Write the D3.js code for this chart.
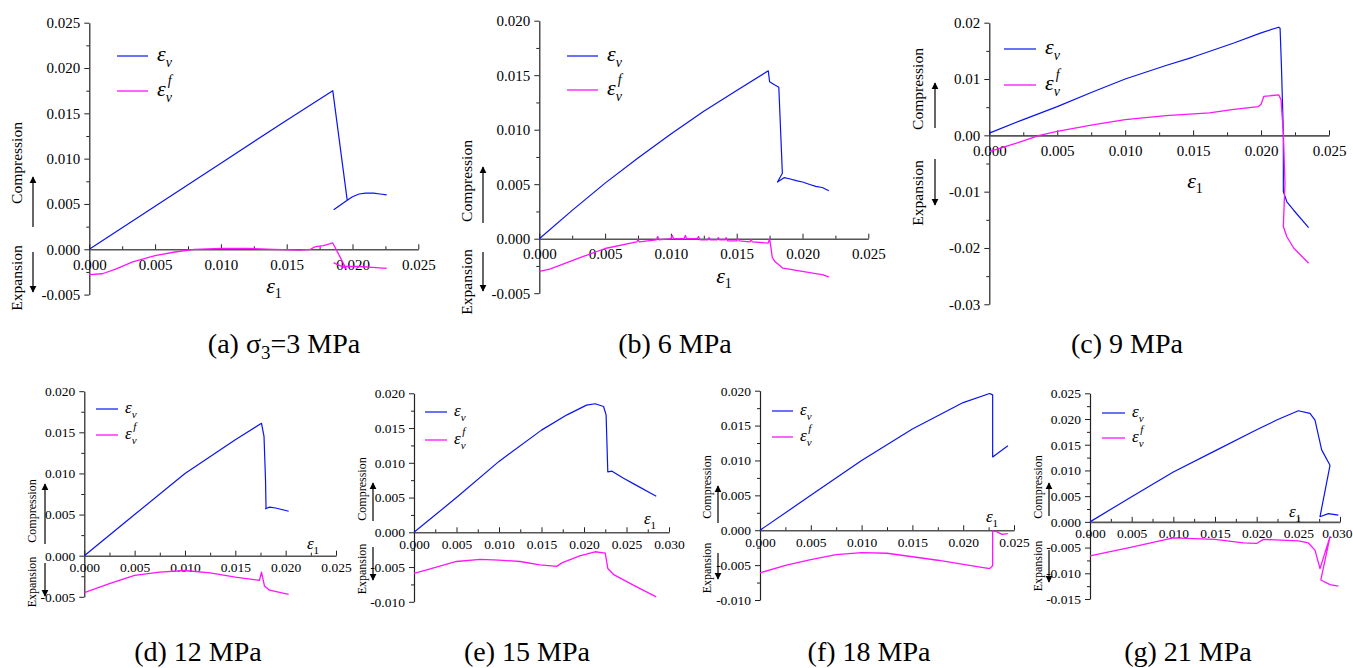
<!DOCTYPE html>
<html>
<head>
<meta charset="utf-8">
<script src="https://cdn.jsdelivr.net/npm/d3@7"></script>
<style>
  html, body { margin: 0; padding: 0; background: #fff; }
  svg { display: block; }
</style>
</head>
<body>
<svg id="chart" width="1353" height="668" font-family="Liberation Serif"></svg>
<script>
// ---------------- DATA ----------------
// each point: [axial strain ε1, volumetric strain]
const evA = [[0,0],[0.005,0.00475],[0.010,0.0095],[0.015,0.01425],[0.0185,0.0175],[0.0196,0.0054],[0.0186,0.0044],[0.0190,0.0048],[0.0196,0.0054],[0.0200,0.0058],[0.0205,0.0061],[0.0210,0.0062],[0.0216,0.0062],[0.0221,0.0061],[0.0226,0.0060]];
const evfA = [[0,-0.0028],[0.001,-0.0027],[0.002,-0.0022],[0.0033,-0.0014],[0.005,-0.0007],[0.0065,-0.0003],[0.008,0.0000],[0.010,0.0001],[0.012,0.0001],[0.014,0.0000],[0.016,-0.0001],[0.0168,0.0000],[0.0172,0.0003],[0.0178,0.0004],[0.0185,0.0007],[0.0195,-0.0021],[0.0186,-0.0015],[0.0190,-0.0018],[0.0196,-0.0019],[0.0205,-0.0019],[0.0215,-0.0020],[0.0226,-0.0021]];

const evB = [[0,0],[0.0025,0.0026],[0.005,0.0051],[0.0075,0.0074],[0.010,0.0096],[0.0125,0.0117],[0.015,0.0136],[0.0174,0.0154],[0.0175,0.0144],[0.0179,0.0141],[0.0182,0.0139],[0.01847,0.0060],[0.0181,0.0052],[0.0186,0.0056],[0.0190,0.0055],[0.0196,0.0053],[0.0200,0.0052],[0.0205,0.0050],[0.0210,0.0048],[0.0215,0.0047],[0.0220,0.0044]];
const evfB = [[0,-0.0030],[0.0008,-0.0028],[0.0033,-0.00165],[0.005,-0.0009],[0.0074,-0.0003],[0.0075,-0.0001],[0.0076,-0.0003],[0.0089,-0.0001],[0.0090,0.0002],[0.0091,-0.0001],[0.0100,0.0000],[0.0101,0.0003],[0.0102,0.0000],[0.0110,0.0000],[0.0111,0.0003],[0.0112,0.0000],[0.0120,0.0000],[0.0121,0.0002],[0.0122,-0.0001],[0.0128,-0.0001],[0.0129,0.0001],[0.0130,-0.0001],[0.0135,-0.0001],[0.0136,0.0001],[0.0137,-0.0001],[0.0141,-0.0001],[0.0142,0.0001],[0.0143,-0.0002],[0.0150,-0.0002],[0.0151,0.0000],[0.0152,-0.0002],[0.0160,-0.0003],[0.0161,-0.0001],[0.0162,-0.0003],[0.0174,-0.0004],[0.0175,0.0000],[0.0176,-0.0008],[0.0177,-0.0017],[0.0179,-0.0021],[0.0182,-0.0024],[0.0185,-0.0027],[0.0190,-0.0028],[0.0195,-0.0029],[0.0200,-0.0030],[0.0210,-0.0032],[0.0215,-0.0033],[0.0220,-0.0035]];

const evC = [[0,0.0004],[0.0025,0.0028],[0.005,0.0051],[0.0075,0.0076],[0.010,0.0100],[0.013,0.0124],[0.015,0.0139],[0.018,0.0164],[0.020,0.0182],[0.0213,0.0192],[0.0214,0.0190],[0.0215,0.0122],[0.02164,0.0004],[0.02164,-0.0100],[0.0219,-0.0118],[0.0224,-0.0133],[0.0235,-0.0164]];
const evfC = [[0,-0.0029],[0.002,-0.0014],[0.0037,0.0000],[0.005,0.0007],[0.0075,0.0018],[0.010,0.0028],[0.013,0.0035],[0.0162,0.0040],[0.018,0.0046],[0.0198,0.0051],[0.0200,0.0055],[0.0202,0.0069],[0.0213,0.0072],[0.02147,0.0063],[0.02164,0.0004],[0.02176,-0.0085],[0.02164,-0.0162],[0.0219,-0.0180],[0.0224,-0.0200],[0.0235,-0.0227]];

const evD = [[0,0],[0.005,0.0050],[0.010,0.0100],[0.015,0.0141],[0.0176,0.0161],[0.01785,0.0145],[0.0180,0.0092],[0.01805,0.0058],[0.0180,0.0057],[0.0184,0.0059],[0.0190,0.0058],[0.0203,0.0054]];
const evfD = [[0,-0.0045],[0.0025,-0.0034],[0.005,-0.0024],[0.0075,-0.0020],[0.010,-0.0018],[0.0125,-0.0021],[0.015,-0.0026],[0.0174,-0.0030],[0.0176,-0.0020],[0.0179,-0.0037],[0.0184,-0.0042],[0.0203,-0.0047]];

const evE = [[0,0],[0.005,0.0050],[0.010,0.0102],[0.015,0.0147],[0.018,0.0169],[0.0203,0.0183],[0.0213,0.0185],[0.0223,0.0181],[0.0226,0.0169],[0.0228,0.0087],[0.0233,0.0088],[0.0246,0.0078],[0.0258,0.0070],[0.0285,0.0052]];
const evfE = [[0,-0.0059],[0.0015,-0.0054],[0.005,-0.0042],[0.0078,-0.0039],[0.010,-0.0040],[0.0125,-0.0042],[0.0148,-0.0047],[0.0168,-0.0049],[0.0174,-0.0044],[0.0195,-0.0034],[0.0213,-0.0028],[0.0225,-0.0030],[0.0228,-0.0052],[0.0235,-0.0061],[0.0258,-0.0076],[0.0285,-0.0093]];

const evF = [[0,0],[0.005,0.0050],[0.010,0.0100],[0.015,0.0145],[0.020,0.0183],[0.0226,0.0196],[0.0229,0.0194],[0.0229,0.0105],[0.0244,0.0121]];
const evfF = [[0,-0.0061],[0.0026,-0.0050],[0.005,-0.0042],[0.0075,-0.0035],[0.010,-0.0032],[0.0125,-0.0033],[0.015,-0.0038],[0.0175,-0.0043],[0.020,-0.0049],[0.0226,-0.0055],[0.0229,-0.0051],[0.0229,-0.0001],[0.0233,-0.0002],[0.0238,-0.0006],[0.0244,-0.0005]];

const evG = [[0,0],[0.005,0.0049],[0.010,0.0097],[0.015,0.0138],[0.020,0.0179],[0.0224,0.0198],[0.025,0.0216],[0.0264,0.0211],[0.027,0.0198],[0.0278,0.0140],[0.0288,0.0110],[0.0276,0.0010],[0.0286,0.0016],[0.0298,0.0013]];
const evfG = [[0,-0.0066],[0.005,-0.0049],[0.010,-0.0031],[0.015,-0.0034],[0.0184,-0.0041],[0.020,-0.0042],[0.0208,-0.0034],[0.025,-0.0037],[0.0262,-0.0041],[0.027,-0.0055],[0.0276,-0.0091],[0.0288,-0.0029],[0.0277,-0.0113],[0.0288,-0.0122],[0.0298,-0.0125]];

// tick values
const xTicks25 = [0, 0.005, 0.010, 0.015, 0.020, 0.025];
const xTicks30 = [0, 0.005, 0.010, 0.015, 0.020, 0.025, 0.030];
const yTicksA = [-0.005, 0, 0.005, 0.010, 0.015, 0.020, 0.025];
const yTicksB = [-0.005, 0, 0.005, 0.010, 0.015, 0.020];
const yTicksC = [-0.03, -0.02, -0.01, 0, 0.01, 0.02];
const yTicksE = [-0.010, -0.005, 0, 0.005, 0.010, 0.015, 0.020];
const yTicksG = [-0.015, -0.010, -0.005, 0, 0.005, 0.010, 0.015, 0.020, 0.025];

// captions ("|" marks the subscript)
const captions = ["(a) σ|3|=3 MPa", "(b) 6 MPa", "(c) 9 MPa", "(d) 12 MPa", "(e) 15 MPa", "(f) 18 MPa", "(g) 21 MPa"];

// ---------------- LAYOUT ----------------
const FONT = "Liberation Serif";
const W = 1353;
const BLUE = "#0a14f0", PINK = "#ff14ff", AX = "#222";
const layout = [
  {ev: evA, evf: evfA, xt: xTicks25, yt: yTicksA, dec: 3, x0: 89.3, x1: 418.3, yT: 22.7, yB: 294.6,
   big: true, leg: [117, 148, 56, 91], eps1: [274, 287], comp: [17, 163, 33, 227, 177], exp: [17, 278, 33, 252, 292], cap: [284, 353]},
  {ev: evB, evf: evfB, xt: xTicks25, yt: yTicksB, dec: 3, x0: 539.3, x1: 868.3, yT: 20.7, yB: 293.2,
   big: true, leg: [567, 598, 56, 90], eps1: [724, 277], comp: [467, 181, 483, 223, 167], exp: [467, 282, 483, 252, 291], cap: [675, 353]},
  {ev: evC, evf: evfC, xt: xTicks25, yt: yTicksC, dec: 2, x0: 989.3, x1: 1329, yT: 22.7, yB: 304.3,
   big: true, leg: [1004, 1036, 49, 85], eps1: [1195, 182], comp: [918, 89, 935, 128, 83], exp: [918, 193, 935, 159, 205], cap: [1127, 353]},
  {ev: evD, evf: evfD, xt: xTicks25, yt: yTicksB, dec: 3, x0: 84.3, x1: 336, yT: 391.2, yB: 596.8,
   big: false, leg: [96, 118, 409, 435], eps1: [313, 545], comp: [31.7, 511, 45, 544, 484], exp: [31.7, 582, 45, 563, 596], cap: [198, 661]},
  {ev: evE, evf: evfE, xt: xTicks30, yt: yTicksE, dec: 3, x0: 414, x1: 669, yT: 393.3, yB: 601.8,
   big: false, leg: [425, 447, 412, 440], eps1: [650, 520], comp: [361.7, 489, 373, 521, 483], exp: [361.7, 569, 373, 547, 580], cap: [527, 661]},
  {ev: evF, evf: evfF, xt: xTicks25, yt: yTicksE, dec: 3, x0: 760, x1: 1014, yT: 390.7, yB: 600,
   big: false, leg: [772, 793, 411, 437], eps1: [992, 518], comp: [706.7, 487, 718, 523, 486], exp: [706.7, 568, 718, 553, 579], cap: [869, 661]},
  {ev: evG, evf: evfG, xt: xTicks30, yt: yTicksG, dec: 3, x0: 1090, x1: 1340, yT: 393.3, yB: 599,
   big: false, leg: [1102, 1125, 413, 438], eps1: [1295, 513], comp: [1038.3, 487, 1049, 516, 483], exp: [1038.3, 566, 1049, 550, 582], cap: [1188, 661]}
];

const svg = d3.select("#chart");
svg.append("rect").attr("width", W).attr("height", 668).attr("fill", "#fff");

const defs = svg.append("defs");
defs.append("marker").attr("id", "arr").attr("viewBox", "0 0 10 10").attr("refX", 9).attr("refY", 5)
  .attr("markerWidth", 7).attr("markerHeight", 9).attr("markerUnits", "userSpaceOnUse").attr("orient", "auto")
  .append("path").attr("d", "M0,0 L10,5 L0,10 z").attr("fill", "#000");

function fmt(dec) { return v => (Math.abs(v) < 1e-12 ? 0 : v).toFixed(dec); }
function minors(t) { const m = []; for (let i = 0; i < t.length - 1; i++) m.push((t[i] + t[i + 1]) / 2); return m; }

layout.forEach((p, i) => {
  const xd = [p.xt[0], p.xt[p.xt.length - 1]];
  const yd = [p.yt[0], p.yt[p.yt.length - 1]];
  const x = d3.scaleLinear().domain(xd).range([p.x0, p.x1]);
  const y = d3.scaleLinear().domain(yd).range([p.yB, p.yT]);
  const tickFs = p.big ? 15 : 13.5;
  const g = svg.append("g").attr("font-family", FONT);

  // y axis (major + minor)
  const ya = g.append("g").attr("transform", `translate(${p.x0},0)`)
    .call(d3.axisLeft(y).tickValues(p.yt).tickSize(5).tickSizeOuter(0).tickPadding(4).tickFormat(fmt(p.dec)));
  g.append("g").attr("transform", `translate(${p.x0},0)`)
    .call(d3.axisLeft(y).tickValues(minors(p.yt)).tickSize(3).tickFormat(""))
    .call(s => s.select(".domain").remove());
  // x axis at y = 0
  const y0 = y(0);
  const xa = g.append("g").attr("transform", `translate(0,${y0})`)
    .call(d3.axisBottom(x).tickValues(p.xt).tickSize(-5).tickSizeOuter(0).tickPadding(p.big ? 10 : 7).tickFormat(fmt(3)));
  g.append("g").attr("transform", `translate(0,${y0})`)
    .call(d3.axisBottom(x).tickValues(minors(p.xt)).tickSize(-3).tickFormat(""))
    .call(s => s.select(".domain").remove());

  [ya, xa].forEach(a => {
    a.attr("font-family", FONT);
    a.selectAll("text").attr("font-family", FONT).attr("font-size", tickFs).attr("fill", "#000");
    a.select(".domain").attr("stroke", AX).attr("stroke-width", 1.2);
  });
  xa.select(".domain").attr("stroke", "#555").attr("stroke-width", 1.6);
  g.selectAll(".tick line").attr("stroke", AX).attr("stroke-width", 1);
  // keep the last x tick label inside the picture
  xa.selectAll(".tick text").each(function (d) {
    const w = this.getComputedTextLength();
    const over = x(d) + w / 2 - (W - 1);
    if (over > 0) d3.select(this).attr("dx", -over);
  });

  // curves
  const line = d3.line().x(d => x(d[0])).y(d => y(d[1]));
  g.append("path").datum(p.ev).attr("d", line).attr("fill", "none").attr("stroke", BLUE).attr("stroke-width", 1.2).attr("stroke-linejoin", "round");
  g.append("path").datum(p.evf).attr("d", line).attr("fill", "none").attr("stroke", PINK).attr("stroke-width", 1.3).attr("stroke-linejoin", "round");

  // legend
  const lf = p.big ? 22 : 17;
  const sf = p.big ? 14 : 11;
  const [lx0, lx1, ly1, ly2] = p.leg;
  g.append("line").attr("x1", lx0).attr("x2", lx1).attr("y1", ly1).attr("y2", ly1).attr("stroke", BLUE).attr("stroke-width", 1.2);
  g.append("line").attr("x1", lx0).attr("x2", lx1).attr("y1", ly2).attr("y2", ly2).attr("stroke", PINK).attr("stroke-width", 1.3);
  const tx = lx1 + (p.big ? 9 : 7);
  const t1 = g.append("text").attr("x", tx).attr("y", ly1 + lf * 0.22).attr("font-size", lf).attr("font-style", "italic");
  t1.append("tspan").text("ε");
  t1.append("tspan").attr("font-size", sf).attr("dy", lf * 0.28).text("v");
  const t2 = g.append("text").attr("x", tx).attr("y", ly2 + lf * 0.22).attr("font-size", lf).attr("font-style", "italic");
  t2.append("tspan").text("ε");
  t2.append("tspan").attr("font-size", sf).attr("dy", lf * 0.28).text("v");
  t2.append("tspan").attr("font-size", sf).attr("dx", -sf * 0.3).attr("dy", -lf * 0.78).text("f");

  // ε1 axis label
  const e1 = g.append("text").attr("x", p.eps1[0]).attr("y", p.eps1[1] + lf * 0.25).attr("text-anchor", "middle").attr("font-size", lf);
  e1.append("tspan").attr("font-style", "italic").text("ε");
  e1.append("tspan").attr("font-size", sf).attr("dy", lf * 0.25).text("1");

  // Compression / Expansion labels and arrows
  const cf = p.big ? 15.5 : 12;
  [["Compression", p.comp], ["Expansion", p.exp]].forEach(([lab, c]) => {
    g.append("text").attr("transform", `translate(${c[0] + cf * 0.33},${c[1]}) rotate(-90)`)
      .attr("text-anchor", "middle").attr("font-size", cf).text(lab);
    g.append("line").attr("x1", c[2]).attr("x2", c[2]).attr("y1", c[3]).attr("y2", c[4])
      .attr("stroke", "#000").attr("stroke-width", 1.2).attr("marker-end", "url(#arr)");
  });

  // caption
  const parts = captions[i].split("|");
  const ct = g.append("text").attr("x", p.cap[0]).attr("y", p.cap[1]).attr("text-anchor", "middle").attr("font-size", 28);
  if (parts.length === 3) {
    ct.append("tspan").text(parts[0]);
    ct.append("tspan").attr("font-size", 19).attr("dy", 6).text(parts[1]);
    ct.append("tspan").attr("dy", -6).text(parts[2]);
  } else {
    ct.text(parts[0]);
  }
});
svg.selectAll("text").attr("font-family", FONT);
</script>
</body>
</html>
